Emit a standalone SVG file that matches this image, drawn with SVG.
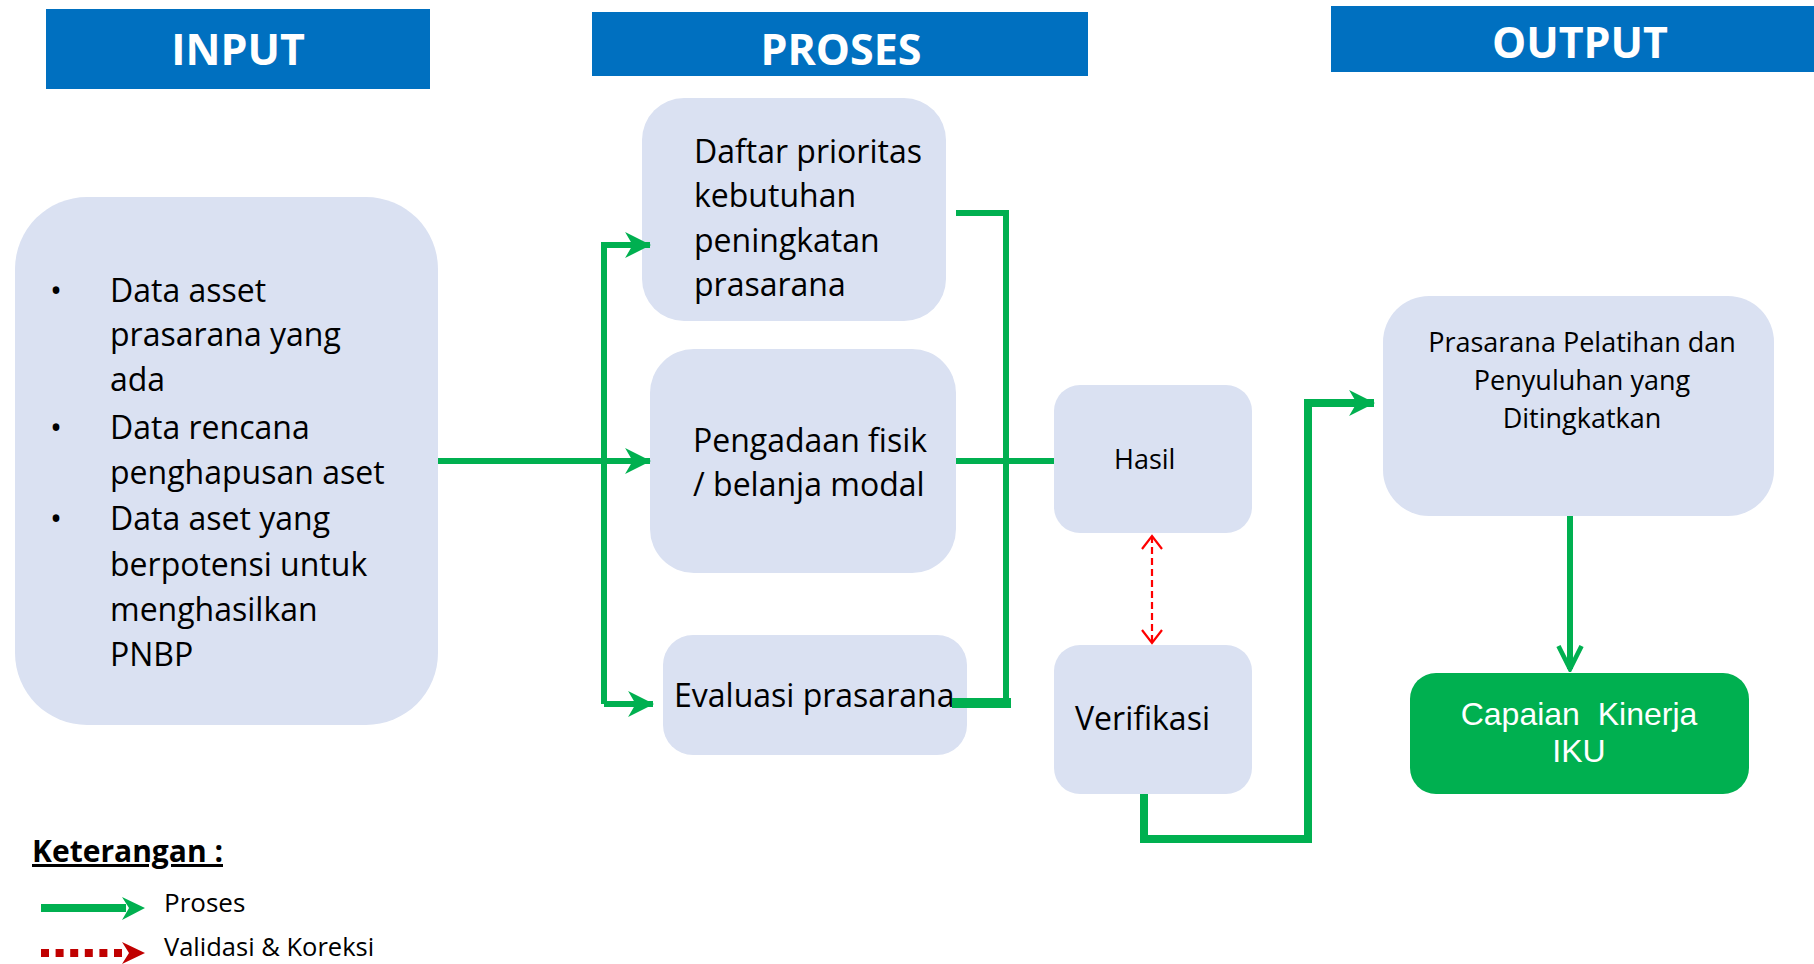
<svg xmlns="http://www.w3.org/2000/svg" width="1814" height="964" viewBox="0 0 1814 964">
  <style>
    .hdr { fill: #0070C0; }
    .hdr-t { font-family: "Open Sans", "Liberation Sans", sans-serif; font-weight: 700; font-size: 43px; fill: #FFFFFF; text-anchor: middle; }
    .box { fill: #DAE1F2; }
    .t { font-family: "Open Sans", "Liberation Sans", sans-serif; font-size: 32px; fill: #000000; }
    .t-sm { font-family: "Open Sans", "Liberation Sans", sans-serif; font-size: 27px; fill: #000000; }
    .t-w { font-family: "Liberation Sans", Arial, sans-serif; font-size: 32px; fill: #FFFFFF; text-anchor: middle; }
    .flow { fill: none; stroke: #00B050; stroke-width: 6; }
    .check { fill: none; stroke: #FF0000; stroke-width: 2.2; stroke-dasharray: 7 4; }
  </style>
  <defs>
    <marker id="head" markerUnits="userSpaceOnUse" markerWidth="26" markerHeight="26" viewBox="0 0 24 24" refX="23" refY="12" orient="auto">
      <path d="M0,0 L24,12 L0,24 L7,12 Z" fill="#00B050"/>
    </marker>
    <marker id="head-open" markerUnits="userSpaceOnUse" markerWidth="30" markerHeight="30" viewBox="0 0 26 26" refX="23" refY="13" orient="auto">
      <path d="M3,3 L23,13 L3,23" fill="none" stroke="#00B050" stroke-width="4"/>
    </marker>
    <marker id="head-red" markerUnits="userSpaceOnUse" markerWidth="16" markerHeight="22" viewBox="0 0 16 22" refX="14" refY="11" orient="auto-start-reverse">
      <path d="M1,1 L14,11 L1,21" fill="none" stroke="#FF0000" stroke-width="2.2"/>
    </marker>
  </defs>

  <rect width="1814" height="964" fill="#FFFFFF"/>

  <!-- column headers -->
  <g id="header-input">
    <rect class="hdr" x="46" y="9" width="384" height="80"/>
    <text class="hdr-t" x="238" y="65">INPUT</text>
  </g>
  <g id="header-proses">
    <rect class="hdr" x="592" y="12" width="496" height="64"/>
    <text class="hdr-t" x="841" y="65">PROSES</text>
  </g>
  <g id="header-output">
    <rect class="hdr" x="1331" y="6" width="483" height="66"/>
    <text class="hdr-t" x="1580" y="58">OUTPUT</text>
  </g>

  <!-- input data -->
  <g id="node-input">
    <rect class="box" x="15" y="197" width="423" height="528" rx="72" ry="72"/>
    <text class="t" x="50" y="302">•</text>
    <text class="t" x="50" y="439">•</text>
    <text class="t" x="50" y="530">•</text>
    <text class="t" x="110" y="302">Data asset</text>
    <text class="t" x="110" y="346">prasarana yang</text>
    <text class="t" x="110" y="391">ada</text>
    <text class="t" x="110" y="439">Data rencana</text>
    <text class="t" x="110" y="484">penghapusan aset</text>
    <text class="t" x="110" y="530">Data aset yang</text>
    <text class="t" x="110" y="576">berpotensi untuk</text>
    <text class="t" x="110" y="621">menghasilkan</text>
    <text class="t" x="110" y="666">PNBP</text>
  </g>

  <!-- process steps -->
  <g id="node-daftar">
    <rect class="box" x="642" y="98" width="304" height="223" rx="42" ry="42"/>
    <text class="t" x="694" y="163">Daftar prioritas</text>
    <text class="t" x="694" y="207">kebutuhan</text>
    <text class="t" x="694" y="252">peningkatan</text>
    <text class="t" x="694" y="296">prasarana</text>
  </g>
  <g id="node-pengadaan">
    <rect class="box" x="650" y="349" width="306" height="224" rx="44" ry="44"/>
    <text class="t" x="693" y="452">Pengadaan fisik</text>
    <text class="t" x="693" y="496">/ belanja modal</text>
  </g>
  <g id="node-evaluasi">
    <rect class="box" x="663" y="635" width="304" height="120" rx="30" ry="30"/>
    <text class="t" x="674" y="707">Evaluasi prasarana</text>
  </g>

  <!-- result and verification -->
  <g id="node-hasil">
    <rect class="box" x="1054" y="385" width="198" height="148" rx="26" ry="26"/>
    <text class="t-sm" x="1114" y="469">Hasil</text>
  </g>
  <g id="node-verifikasi">
    <rect class="box" x="1054" y="645" width="198" height="149" rx="26" ry="26"/>
    <text class="t" x="1075" y="730">Verifikasi</text>
  </g>

  <!-- outputs -->
  <g id="node-prasarana">
    <rect class="box" x="1383" y="296" width="391" height="220" rx="46" ry="46"/>
    <text class="t-sm" x="1582" y="352" text-anchor="middle">Prasarana Pelatihan dan</text>
    <text class="t-sm" x="1582" y="390" text-anchor="middle">Penyuluhan yang</text>
    <text class="t-sm" x="1582" y="428" text-anchor="middle">Ditingkatkan</text>
  </g>
  <g id="node-capaian">
    <rect x="1410" y="673" width="339" height="121" rx="26" ry="26" fill="#00B050"/>
    <text class="t-w" x="1579" y="725" xml:space="preserve">Capaian  Kinerja</text>
    <text class="t-w" x="1579" y="762">IKU</text>
  </g>

  <!-- connectors -->
  <g id="connectors">
    <path class="flow" d="M438,461 H650" marker-end="url(#head)"/>
    <path class="flow" d="M604,704 V245 H650" marker-end="url(#head)"/>
    <path class="flow" d="M604,704 H653" marker-end="url(#head)"/>
    <path class="flow" d="M956,213 H1006 V707"/>
    <path class="flow" d="M952,703 H1011" style="stroke-width:10"/>
    <path class="flow" d="M956,461 H1054"/>
    <path class="flow" d="M1144,794 V839 H1308 V403 H1374" style="stroke-width:8" marker-end="url(#head)"/>
    <path class="flow" d="M1570,516 V669" marker-end="url(#head-open)"/>
    <path class="check" d="M1152,536 V643" marker-start="url(#head-red)" marker-end="url(#head-red)"/>
  </g>

  <!-- legend -->
  <g id="legend">
    <text x="32" y="862" font-family="Open Sans, Liberation Sans, sans-serif" font-weight="700" font-size="30" text-decoration="underline">Keterangan :</text>
    <line x1="41" y1="908" x2="126" y2="908" stroke="#00B050" stroke-width="8"/>
    <path d="M122,897 L145,908 L122,920 L129,908 Z" fill="#00B050"/>
    <text x="164" y="912" font-family="Open Sans, Liberation Sans, sans-serif" font-size="26">Proses</text>
    <line x1="41" y1="953" x2="128" y2="953" stroke="#C00000" stroke-width="8" stroke-dasharray="8 6.6"/>
    <path d="M122,942 L145,953 L122,964 L129,953 Z" fill="#C00000"/>
    <text x="164" y="956" font-family="Open Sans, Liberation Sans, sans-serif" font-size="25.5">Validasi &amp; Koreksi</text>
  </g>
</svg>
